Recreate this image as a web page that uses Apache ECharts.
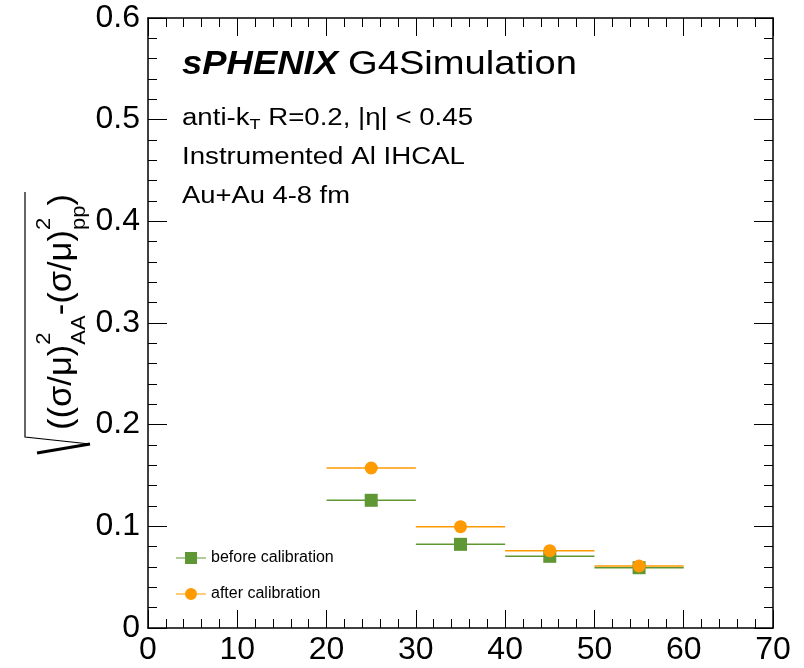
<!DOCTYPE html>
<html>
<head>
<meta charset="utf-8">
<script src="https://cdn.jsdelivr.net/npm/echarts@6/dist/echarts.min.js"></script>
<style>
html,body{margin:0;padding:0;background:#fff;}
#chart{width:804px;height:668px;}
</style>
</head>
<body>
<div id="chart"></div>
<script>
// ---- data ----
const xCenters = [25, 35, 45, 55];
const xHalfWidths = [5, 5, 5, 5];
const beforeCalib = [0.1256, 0.0823, 0.0705, 0.0593];
const afterCalib = [0.1574, 0.0997, 0.0761, 0.0610];
const seriesNames = ['before calibration', 'after calibration'];
const xTicks = [0, 10, 20, 30, 40, 50, 60, 70];
const yTicks = [0, 0.1, 0.2, 0.3, 0.4, 0.5, 0.6];

const GREEN = '#5e9733';
const ORANGE = '#ff9a00';
const SANS = '"Liberation Sans", Arial, Helvetica, sans-serif';

const cv = document.createElement('canvas');
const ctx = cv.getContext('2d');
function measure(font, t) { ctx.font = font; return ctx.measureText(t).width; }

function lineElements(pieces, x0, yc, targetW) {
  const widths = pieces.map(p => measure(p.font, p.t));
  const total = widths.reduce((a, b) => a + b, 0);
  const s = targetW / total;
  let cx = x0;
  return pieces.map((p, i) => {
    const el = {
      type: 'text', x: cx, y: yc + (p.dy || 0), scaleX: s,
      style: { text: p.t, font: p.font, fill: '#000', align: 'left', verticalAlign: 'middle' }
    };
    cx += widths[i] * s;
    return el;
  });
}

const F33 = '33px ' + SANS, F33B = 'italic bold 33px ' + SANS;
const F23 = '23px ' + SANS, F15 = '15px ' + SANS;

const graphics = [];
graphics.push(...lineElements([{ t: 'sPHENIX', font: F33B }], 182, 65, 156));
graphics.push(...lineElements([{ t: 'G4Simulation', font: F33 }], 348, 65, 229));
graphics.push(...lineElements([
  { t: 'anti-k', font: F23 },
  { t: 'T', font: F15, dy: 6 },
  { t: ' R=0.2, |η| < 0.45', font: F23 }
], 182, 119, 291));
graphics.push(...lineElements([{ t: 'Instrumented Al IHCAL', font: F23 }], 182, 158, 283));
graphics.push(...lineElements([{ t: 'Au+Au 4-8 fm', font: F23 }], 182, 197, 168));

// ---- y-axis title (rotated, with sub/superscripts) ----
(function () {
  const FM = '33px ' + SANS, FS = '21px ' + SANS;
  const parts = [
    { main: '((σ/μ)' },
    { sup: '2', sub: 'AA' },
    { main: '-(σ/μ)' },
    { sup: '2', sub: 'pp' },
    { main: ')' }
  ];
  const adv = parts.map(p => p.main ? measure(FM, p.main) : Math.max(measure(FS, p.sup), measure(FS, p.sub)));
  const total = adv.reduce((a, b) => a + b, 0);
  const s = 236 / total;
  const children = [];
  let cx = 0;
  parts.forEach((p, i) => {
    if (p.main) {
      children.push({ type: 'text', x: cx, y: 0, scaleX: s, style: { text: p.main, font: FM, fill: '#000', verticalAlign: 'middle' } });
    } else {
      children.push({ type: 'text', x: cx, y: -18, scaleX: s, style: { text: p.sup, font: FS, fill: '#000', verticalAlign: 'middle' } });
      children.push({ type: 'text', x: cx, y: 17, scaleX: s, style: { text: p.sub, font: FS, fill: '#000', verticalAlign: 'middle' } });
    }
    cx += adv[i] * s;
  });
  graphics.push({ type: 'group', x: 62, y: 430, rotation: Math.PI / 2, children: children });
  graphics.push({ type: 'polyline', shape: { points: [[37, 453], [90, 444]] }, style: { stroke: '#000', lineWidth: 3, fill: null } });
  graphics.push({ type: 'polyline', shape: { points: [[90, 444], [25, 437], [25, 192]] }, style: { stroke: '#000', lineWidth: 1.2, fill: null } });
})();

// ---- series ----
function errData(vals) { return xCenters.map((x, i) => [x, vals[i], xHalfWidths[i]]); }
function ptData(vals) { return xCenters.map((x, i) => [x, vals[i]]); }
function errSeries(vals, color) {
  return {
    type: 'custom', name: 'err', xAxisIndex: 0, yAxisIndex: 0, silent: true,
    data: errData(vals),
    renderItem: function (params, api) {
      const x = api.value(0), y = api.value(1), hw = api.value(2);
      const p1 = api.coord([x - hw, y]), p2 = api.coord([x + hw, y]);
      return { type: 'line', shape: { x1: p1[0], y1: p1[1], x2: p2[0], y2: p2[1] }, style: { stroke: color, lineWidth: 1.5 } };
    }
  };
}

const tickStyle = { color: '#000', width: 1 };
function xAx(pos, showLabel) {
  return {
    type: 'value', position: pos, min: xTicks[0], max: xTicks[xTicks.length - 1], interval: 10,
    axisLine: { show: true, onZero: false, lineStyle: { color: '#000', width: 1.5 } },
    axisTick: { show: true, inside: true, length: 18, lineStyle: tickStyle },
    minorTick: { show: true, splitNumber: 5, length: 9, lineStyle: tickStyle },
    splitLine: { show: false },
    axisLabel: { show: showLabel, fontSize: 32, color: '#000', margin: 6, fontFamily: SANS }
  };
}
function yAx(pos, showLabel) {
  return {
    type: 'value', position: pos, min: yTicks[0], max: yTicks[yTicks.length - 1], interval: 0.1,
    axisLine: { show: true, onZero: false, lineStyle: { color: '#000', width: 1.5 } },
    axisTick: { show: true, inside: true, length: 19, lineStyle: tickStyle },
    minorTick: { show: true, splitNumber: 5, length: 9, lineStyle: tickStyle },
    splitLine: { show: false },
    axisLabel: { show: showLabel, fontSize: 32, color: '#000', margin: 8, fontFamily: SANS,
      formatter: v => (v === 0 ? '0' : v.toFixed(1)) }
  };
}

const chart = echarts.init(document.getElementById('chart'), null, { renderer: 'canvas' });
chart.setOption({
  backgroundColor: '#fff',
  animation: false,
  grid: { left: 148, right: 31, top: 18, bottom: 40, containLabel: false },
  xAxis: [xAx('bottom', true), xAx('top', false)],
  yAxis: [yAx('left', true), yAx('right', false)],
  legend: {
    orient: 'vertical', left: 171, top: 545, itemGap: 20, itemWidth: 30, itemHeight: 12,
    data: [
      { name: seriesNames[0], icon: 'path://M0,5.4h9v1.2h-9z M9,0h12v12h-12z M21,5.4h9v1.2h-9z' },
      { name: seriesNames[1], icon: 'path://M0,5.4h9v1.2h-9z M21,5.4h9v1.2h-9z M9,6a6,6 0 1,0 12,0a6,6 0 1,0 -12,0z' }
    ],
    textStyle: { fontSize: 16, color: '#000', fontFamily: SANS },
    selectedMode: false
  },
  graphic: graphics,
  series: [
    errSeries(beforeCalib, GREEN),
    { type: 'scatter', name: seriesNames[0], symbol: 'rect', symbolSize: 13, data: ptData(beforeCalib), itemStyle: { color: GREEN, opacity: 1 } },
    errSeries(afterCalib, ORANGE),
    { type: 'scatter', name: seriesNames[1], symbol: 'circle', symbolSize: 13, data: ptData(afterCalib), itemStyle: { color: ORANGE, opacity: 1 } }
  ]
});
</script>
</body>
</html>
